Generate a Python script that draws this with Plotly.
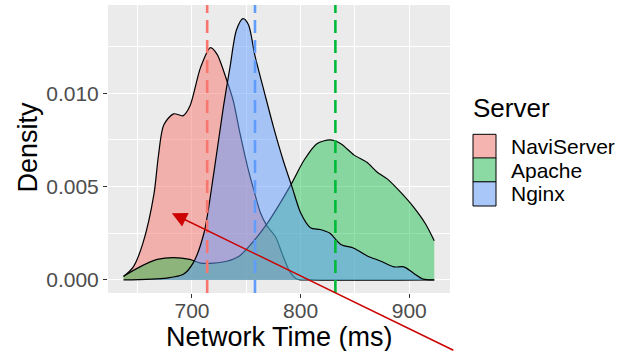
import plotly.graph_objects as go

# ---------------- data ----------------
series_names = ["NaviServer", "Apache", "Nginx"]
series_colors = ["#F8766D", "#00BA38", "#619CFF"]

navi_x = [637, 646, 655, 665, 669, 674, 683, 692, 698, 708, 717, 723, 732, 738, 744,
          751, 757, 763, 769, 777, 783, 790, 797, 810, 923]
navi_y = [0.00018, 0.0007, 0.0020, 0.0046, 0.0066, 0.0083, 0.0089, 0.0088, 0.0093, 0.0114,
          0.01245, 0.0121, 0.0107, 0.0096, 0.0079, 0.0061, 0.0048, 0.0036, 0.0029, 0.0023,
          0.0014, 0.00045, 0.00004, 0.0, 0.0]

apache_x = [637, 652, 668, 683, 698, 708, 720, 732, 744, 757, 769, 781, 792, 803, 815,
            827, 837, 849, 861, 870, 880, 892, 904, 915, 923]
apache_y = [0.0002, 0.0007, 0.0011, 0.0012, 0.0011, 0.0009, 0.0009, 0.0010, 0.0013, 0.0021,
            0.0030, 0.0041, 0.0052, 0.0064, 0.0073, 0.0075, 0.0073, 0.0067, 0.0063, 0.0058,
            0.0054, 0.0047, 0.0039, 0.0030, 0.0021]

nginx_x = [637, 677, 692, 701, 711, 720, 729, 735, 741, 747, 752, 758, 766, 775, 784,
           792, 800, 809, 818, 827, 837, 849, 861, 874, 886, 895, 904, 913, 923]
nginx_y = [0.0, 0.0001, 0.0003, 0.0009, 0.0025, 0.0057, 0.0093, 0.0114, 0.0134, 0.0140,
           0.01367, 0.0120, 0.0102, 0.0082, 0.0064, 0.0050, 0.0036, 0.0028, 0.0027, 0.0025,
           0.0019, 0.0017, 0.0013, 0.0010, 0.0007, 0.0007, 0.00036, 0.00004, 0.0]

series_x = [navi_x, apache_x, nginx_x]
series_y = [navi_y, apache_y, nginx_y]
mean_values = [714, 832, 758]  # NaviServer, Apache, Nginx

x_tick_vals = [700, 800, 900]
y_tick_vals = [0.000, 0.005, 0.010]
y_tick_text = ["0.000", "0.005", "0.010"]

arrow_tip_x = 681.5
arrow_tip_y = 0.00357

x_title = "Network Time (ms)"
y_title = "Density"
legend_title = "Server"

# ---------------- layout constants ----------------
W, H = 617, 351
ML, MR, MT, MB = 108, 167, 5, 58
PW, PH = W - ML - MR, H - MT - MB
FONT = "Liberation Sans, Arial, Helvetica, sans-serif"
fill_alphas = [0.5, 0.42, 0.5]


def px2paper_x(px):
    return (px - ML) / PW


def px2paper_y(py):
    return (H - MB - py) / PH


def rgba(hexc, a):
    h = hexc.lstrip("#")
    r, g, b = int(h[0:2], 16), int(h[2:4], 16), int(h[4:6], 16)
    return f"rgba({r},{g},{b},{a})"


fig = go.Figure()
for name, col, al, xs, ys in zip(series_names, series_colors, fill_alphas, series_x, series_y):
    fig.add_trace(go.Scatter(
        x=xs, y=ys, name=name, mode="lines",
        line=dict(color="black", width=1.2, shape="spline", smoothing=0.8),
        fill="tozeroy", fillcolor=rgba(col, al),
        showlegend=False, hoverinfo="skip",
    ))

shapes = []
for col, m in zip(series_colors, mean_values):
    shapes.append(dict(type="line", xref="x", yref="paper", x0=m, x1=m, y0=0, y1=1,
                       line=dict(color=col, width=2.6, dash="13px,7px"), layer="above"))

# custom legend (ggplot style)
key_x0, key_x1 = 473, 496
key_tops = [134.3, 157.9, 181.8]
key_h = 24.2
annotations = []
for i, (name, col, al) in enumerate(zip(series_names, series_colors, fill_alphas)):
    t = key_tops[i]
    b = t + key_h
    shapes.append(dict(type="rect", xref="paper", yref="paper",
                       x0=px2paper_x(key_x0), x1=px2paper_x(key_x1),
                       y0=px2paper_y(b), y1=px2paper_y(t),
                       fillcolor="#F2F2F2", line=dict(width=0)))
    shapes.append(dict(type="rect", xref="paper", yref="paper",
                       x0=px2paper_x(key_x0), x1=px2paper_x(key_x1),
                       y0=px2paper_y(b), y1=px2paper_y(t),
                       fillcolor=rgba(col, al), line=dict(color="black", width=1)))
    annotations.append(dict(xref="paper", yref="paper", x=px2paper_x(509),
                            y=px2paper_y(t + key_h / 2), text=name, showarrow=False,
                            xanchor="left", yanchor="middle",
                            font=dict(family=FONT, size=21, color="black")))

annotations.append(dict(xref="paper", yref="paper", x=px2paper_x(471), y=px2paper_y(107.5),
                        text=legend_title, showarrow=False, xanchor="left", yanchor="middle",
                        font=dict(family=FONT, size=26, color="black")))
annotations.append(dict(xref="paper", yref="paper", x=px2paper_x(27), y=px2paper_y(147.5),
                        text=y_title, showarrow=False, textangle=-90,
                        xanchor="center", yanchor="middle",
                        font=dict(family=FONT, size=27, color="black")))
annotations.append(dict(xref="paper", yref="paper", x=0.5, y=px2paper_y(337),
                        text=x_title, showarrow=False, xanchor="center", yanchor="middle",
                        font=dict(family=FONT, size=27, color="black")))
annotations.append(dict(xref="x", yref="y", x=arrow_tip_x, y=arrow_tip_y, text="",
                        showarrow=True, arrowhead=2, arrowsize=2, arrowwidth=1.5,
                        arrowcolor="#CC0000", ax=283, ay=139, standoff=0))

axis_common = dict(showline=False, zeroline=False, showgrid=True, gridcolor="white",
                   gridwidth=1.4, ticks="outside", ticklen=4, tickwidth=1.1,
                   tickcolor="#333333",
                   tickfont=dict(family=FONT, size=21, color="#4D4D4D"))

fig.update_layout(
    width=W, height=H,
    margin=dict(l=ML, r=MR, t=MT, b=MB, pad=0),
    paper_bgcolor="white", plot_bgcolor="#EBEBEB",
    showlegend=False,
    shapes=shapes, annotations=annotations,
    xaxis=dict(range=[622.7, 937.5], tickmode="array", tickvals=x_tick_vals,
               ticklabelstandoff=-5,
               minor=dict(dtick=50, tick0=0, showgrid=True, gridcolor="white",
                          gridwidth=0.7, ticks=""),
               **axis_common),
    yaxis=dict(range=[-0.0007, 0.01473], tickmode="array", tickvals=y_tick_vals,
               ticktext=y_tick_text,
               minor=dict(dtick=0.0025, tick0=0, showgrid=True, gridcolor="white",
                          gridwidth=0.7, ticks=""),
               **axis_common),
)

fig.write_html("out.html", config={"displayModeBar": False},
               post_script="document.body.style.margin='0';document.body.style.padding='0';"
                           "document.body.style.overflow='hidden';")
